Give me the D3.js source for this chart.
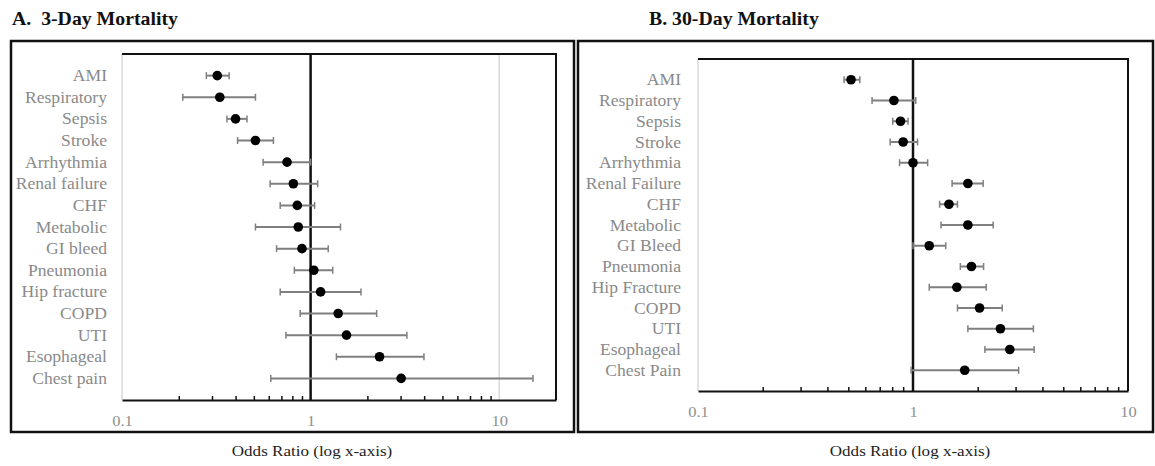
<!DOCTYPE html>
<html>
<head>
<meta charset="utf-8">
<script src="https://cdn.jsdelivr.net/npm/d3@7"></script>
<style>
  body { margin: 0; background: #fff; }
  svg { display: block; font-family: "Liberation Serif", "DejaVu Serif", serif; }
  .title { font-weight: bold; font-size: 18px; fill: #111; white-space: pre; }
  .cat { font-size: 16px; fill: #8a8a8a; }
  .xlab text { font-size: 15px; fill: #8f8f8f; font-family: "Liberation Serif", serif; }
  .axtitle { font-size: 15.5px; fill: #222; }
</style>
</head>
<body>
<div id="chart"></div>
<script>
// panel A: 3-day mortality
var categoriesA = ["AMI", "Respiratory", "Sepsis", "Stroke", "Arrhythmia", "Renal failure", "CHF",
  "Metabolic", "GI bleed", "Pneumonia", "Hip fracture", "COPD", "UTI", "Esophageal", "Chest pain"];
var oddsA = [0.32, 0.33, 0.40, 0.51, 0.75, 0.81, 0.85, 0.86, 0.90, 1.04, 1.13, 1.40, 1.55, 2.32, 3.02];
var lowA  = [0.28, 0.21, 0.36, 0.41, 0.56, 0.61, 0.69, 0.51, 0.66, 0.82, 0.69, 0.88, 0.74, 1.37, 0.615];
var highA = [0.37, 0.51, 0.46, 0.635, 1.00, 1.09, 1.05, 1.44, 1.24, 1.31, 1.85, 2.24, 3.24, 3.99, 15.1];

// panel B: 30-day mortality
var categoriesB = ["AMI", "Respiratory", "Sepsis", "Stroke", "Arrhythmia", "Renal Failure", "CHF",
  "Metabolic", "GI Bleed", "Pneumonia", "Hip Fracture", "COPD", "UTI", "Esophageal", "Chest Pain"];
var oddsB = [0.515, 0.815, 0.875, 0.90, 1.00, 1.80, 1.47, 1.80, 1.19, 1.87, 1.60, 2.04, 2.55, 2.82, 1.74];
var lowB  = [0.478, 0.645, 0.805, 0.783, 0.866, 1.52, 1.33, 1.35, 1.00, 1.66, 1.19, 1.61, 1.80, 2.16, 0.98];
var highB = [0.566, 1.03, 0.948, 1.05, 1.17, 2.12, 1.61, 2.36, 1.42, 2.13, 2.19, 2.60, 3.63, 3.66, 3.10];

var majorTicks = [0.1, 1, 10];
var majorLabels = ["0.1", "1", "10"];
var minorTicks = [0.2, 0.3, 0.4, 0.5, 0.6, 0.7, 0.8, 0.9, 2, 3, 4, 5, 6, 7, 8, 9];

var axisTitle = "Odds Ratio (log x-axis)";

var W = 1155, H = 466;
var stretch = 1.1;   // source image text is a bit wider than it is tall

var svg = d3.select("#chart").append("svg")
    .attr("width", W)
    .attr("height", H);

// place text at (x,y) with the horizontal stretch
function place(sel, x, y) {
    sel.attr("transform", function(d, i){
        var px = typeof x === "function" ? x(d, i) : x;
        var py = typeof y === "function" ? y(d, i) : y;
        return "translate(" + px + "," + py + ") scale(" + stretch + ",1)";
    });
}

function drawPanel(opt) {
    var cats = opt.categories;
    var n = cats.length;

    // outer frame
    svg.append("rect")
        .attr("x", opt.box[0]).attr("y", opt.box[1])
        .attr("width", opt.box[2] - opt.box[0])
        .attr("height", opt.box[3] - opt.box[1])
        .style("fill", "none")
        .style("stroke", "#111")
        .style("stroke-width", 2.5);

    svg.append("text")
        .attr("class", "title")
        .call(place, opt.titleX, 25)
        .text(opt.title);

    var x = d3.scaleLog()
        .domain(opt.domain)
        .range([opt.left, opt.right]);

    // rows 1..n on a 0..n+1 scale, first category at the top
    var y = d3.scaleLinear()
        .domain([0, n + 1])
        .range([opt.bottom, opt.top]);

    var g = svg.append("g");

    // left edge of plot area, light grey
    g.append("line")
        .attr("x1", opt.left).attr("x2", opt.left)
        .attr("y1", opt.top).attr("y2", opt.bottom)
        .style("stroke", "#d9d9d9").style("stroke-width", 1.5);

    // gridline at 10 if inside plot
    if (opt.domain[1] > 10) {
        g.append("line")
            .attr("x1", x(10)).attr("x2", x(10))
            .attr("y1", opt.top).attr("y2", opt.bottom)
            .style("stroke", "#d9d9d9").style("stroke-width", 1.5);
    }

    // top and right border of plot area
    g.append("path")
        .attr("d", "M" + opt.left + "," + opt.top + "H" + opt.right + "V" + opt.bottom)
        .style("fill", "none")
        .style("stroke", "#111")
        .style("stroke-width", 2);

    // vertical reference at OR = 1
    g.append("line")
        .attr("x1", x(1)).attr("x2", x(1))
        .attr("y1", opt.top).attr("y2", opt.bottom)
        .style("stroke", "#111").style("stroke-width", 2.5);

    // minor ticks, pointing into the plot
    var minorAxis = d3.axisBottom(x)
        .tickValues(minorTicks.filter(function(v){ return v < opt.domain[1]; }))
        .tickSizeInner(-4)
        .tickSizeOuter(0)
        .tickFormat("");

    var axG = g.append("g")
        .attr("transform", "translate(0," + opt.bottom + ")")
        .call(minorAxis);
    axG.select(".domain").style("stroke", "#111").style("stroke-width", 2);
    axG.selectAll(".tick line").style("stroke", "#111").style("stroke-width", 1.5);

    // major labels
    var labelAxis = d3.axisBottom(x)
        .tickValues(majorTicks)
        .tickSize(0)
        .tickPadding(15)
        .tickFormat(function(d, i){ return majorLabels[i]; });

    var labG = g.append("g")
        .attr("class", "xlab")
        .attr("transform", "translate(0," + opt.bottom + ")")
        .call(labelAxis);
    labG.select(".domain").remove();
    labG.selectAll(".tick text").attr("transform", "scale(" + stretch + ",1)");

    // category labels
    g.selectAll(".cat")
        .data(cats)
        .enter().append("text")
        .attr("class", "cat")
        .attr("text-anchor", "end")
        .call(place, opt.labelX, function(d, i){ return y(n - i); })
        .attr("dy", "0.35em")
        .text(function(d){ return d; });

    var rows = cats.map(function(c, i){
        return {cat: c, or: opt.odds[i], lo: opt.low[i], hi: opt.high[i], pos: n - i};
    });

    var ci = g.selectAll(".ci")
        .data(rows)
        .enter().append("g")
        .attr("class", "ci");

    ci.append("line")
        .attr("x1", function(d){ return x(d.lo); })
        .attr("x2", function(d){ return x(d.hi); })
        .attr("y1", function(d){ return y(d.pos); })
        .attr("y2", function(d){ return y(d.pos); })
        .style("stroke", "#7f7f7f").style("stroke-width", 2);

    ci.selectAll(".cap")
        .data(function(d){ return [{v: d.lo, pos: d.pos}, {v: d.hi, pos: d.pos}]; })
        .enter().append("line")
        .attr("x1", function(d){ return x(d.v); })
        .attr("x2", function(d){ return x(d.v); })
        .attr("y1", function(d){ return y(d.pos) - 3.5; })
        .attr("y2", function(d){ return y(d.pos) + 3.5; })
        .style("stroke", "#7f7f7f").style("stroke-width", 1.5);

    g.selectAll(".dot")
        .data(rows)
        .enter().append("circle")
        .attr("class", "dot")
        .attr("cx", function(d){ return x(d.or); })
        .attr("cy", function(d){ return y(d.pos); })
        .attr("r", 4.8)
        .style("fill", "#000");

    svg.append("text")
        .attr("class", "axtitle")
        .attr("text-anchor", "middle")
        .call(place, opt.axisTitleX, 456)
        .text(axisTitle);
}

drawPanel({
    title: "A.  3-Day Mortality", titleX: 12,
    box: [11, 41, 574, 432],
    left: 122, right: 556, top: 54, bottom: 400,
    domain: [0.1, 20],
    labelX: 107,
    axisTitleX: 312,
    categories: categoriesA, odds: oddsA, low: lowA, high: highA
});

drawPanel({
    title: "B. 30-Day Mortality", titleX: 649,
    box: [578, 41, 1153, 432],
    left: 698, right: 1128, top: 59, bottom: 391,
    domain: [0.1, 10],
    labelX: 681,
    axisTitleX: 910,
    categories: categoriesB, odds: oddsB, low: lowB, high: highB
});
</script>
</body>
</html>
